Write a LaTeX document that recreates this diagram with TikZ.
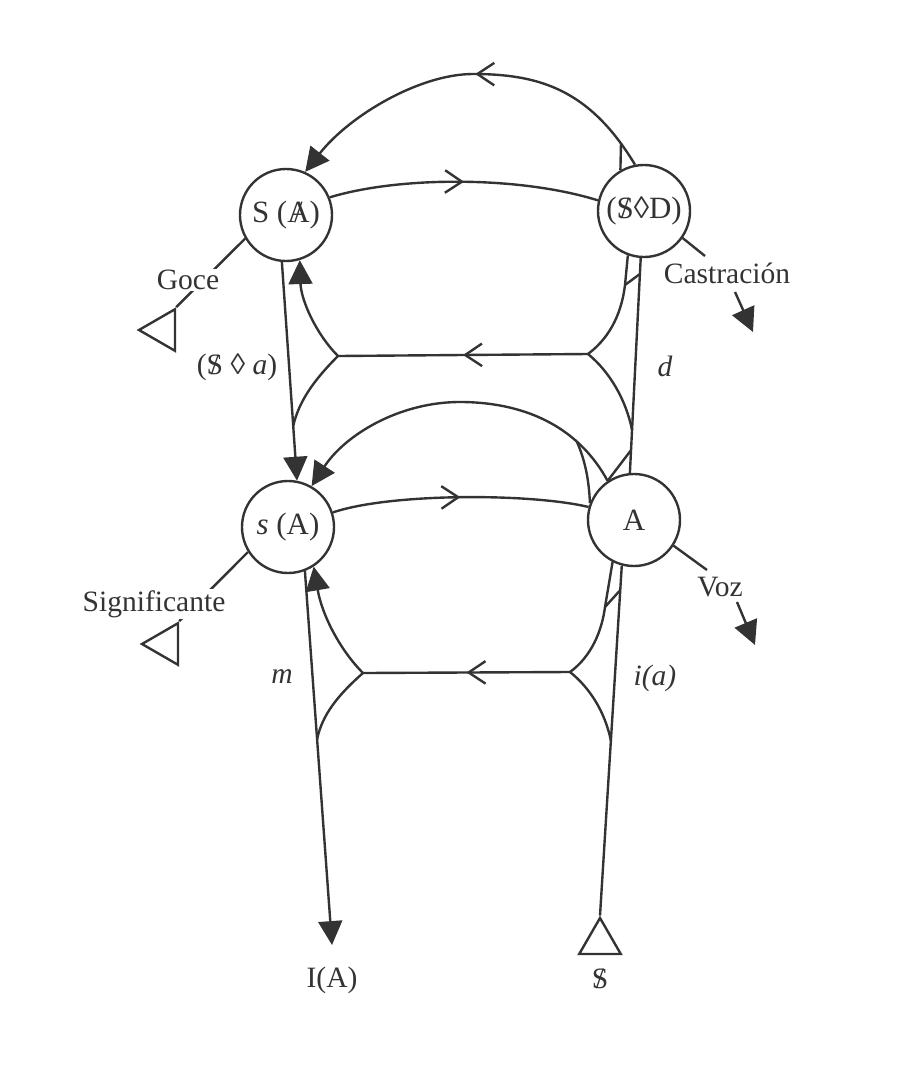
\documentclass[tikz,border=0pt]{standalone}
\usepackage{fontspec}
\setmainfont{Liberation Serif}
\usetikzlibrary{arrows.meta,calc,positioning,shapes.geometric,decorations.markings}
\definecolor{tinta}{gray}{0.2}
\newcommand{\tachado}[1]{\ooalign{#1\cr\hidewidth/\hidewidth\cr}}

\begin{document}
\begin{tikzpicture}[x=0.025cm, y=-0.025cm,
  line width=1.7pt, color=tinta,
  lugar/.style={circle, draw, fill=white,
      minimum size=2.3cm, inner sep=0pt,
      font=\fontsize{22}{26}\selectfont},
  etiqueta/.style={inner sep=1pt, font=\fontsize{21}{24}\selectfont},
  triangulo/.style={regular polygon, regular polygon sides=3, draw,
      minimum size=1.2cm, inner sep=0pt},
  punta/.style={-{Triangle[length=17pt,width=17pt]}},
  chevron/.style={postaction={decorate, decoration={markings,
      mark=at position #1 with {\arrow{Straight Barb[length=12pt,width=16pt]}}}}}]
\useasboundingbox (0,0) rectangle (902,1074);

\node[lugar] (SA) at (286,215) {S (\tachado{A})};
\node[lugar] (SD) at (644,211) {(\tachado{S}◊D)};
\node[lugar] (sA) at (288,527) {\textit{s} (A)};
\node[lugar] (A) at (634,520) {A};

\node[triangulo, shape border rotate=90] (tGoce) at (163,330) {};
\node[triangulo, shape border rotate=90] (tSig) at (166,644) {};
\node[triangulo] (tS) at (600,942) {};

\coordinate (IAtip) at (332,945);
\coordinate (JL1) at (338,356);
\coordinate (JR1) at (588,354);
\coordinate (JL2) at (363,673);
\coordinate (JR2) at (570,672);
\coordinate (kR1) at (625,285);
\coordinate (kR2) at (605,607);
\coordinate (kMid) at (577,442);
\coordinate (kTop) at (621,143);
\coordinate (L1) at ($(SA.265)!0.75!(sA.79)$);
\coordinate (L2) at ($(sA.291)!0.45!(IAtip)$);
\coordinate (P1) at ($(A.95)!0.926!(SD.266)$);
\coordinate (P2) at ($(A.95)!0.2!(SD.266)$);
\coordinate (P3) at ($(A.95)!0.106!(SD.266)$);
\coordinate (P4) at ($(A.255)!0.07!(tS.corner 1)$);
\coordinate (P5) at ($(A.255)!0.5!(tS.corner 1)$);

\draw[punta] (SA.265) -- (sA.79);
\draw[punta] (sA.291) -- (IAtip);
\draw (tS.corner 1) -- (A.255);
\draw (A.95) -- (SD.266);

\draw[punta, chevron=0.49] (SD.101) .. controls (590,90) and (540,74) .. (473,74)
  .. controls (420,74) and (350,115) .. (SA.66);
\draw (SD.120) -- (kTop);
\draw[chevron=0.5] (SA.22) .. controls (400,176) and (520,176) .. (SD.167);

\draw[chevron=0.5] (JR1) -- (JL1);
\draw[punta] (JL1) .. controls (316,334) and (301,300) .. (SA.287);
\draw (JL1) .. controls (316,378) and (299,400) .. (L1);
\draw (JR1) .. controls (612,336) and (622,310) .. (kR1) -- (SD.250);
\draw (kR1) -- (P1);
\draw (JR1) .. controls (610,372) and (626,400) .. (P2);

\draw[punta] (A.124) .. controls (580,430) and (530,403) .. (463,402)
  .. controls (400,401) and (345,435) .. (sA.60);
\draw (kMid) .. controls (585,460) and (589,480) .. (A.159);
\draw (P3) -- (A.124);
\draw[chevron=0.5] (sA.18) .. controls (390,493) and (530,493) .. (A.164);

\draw[chevron=0.5] (JR2) -- (JL2);
\draw[punta] (JL2) .. controls (340,650) and (322,615) .. (sA.303);
\draw (JL2) .. controls (338,695) and (322,715) .. (L2);
\draw (JR2) .. controls (592,656) and (602,630) .. (kR2) -- (A.243);
\draw (kR2) -- (P4);
\draw (JR2) .. controls (590,688) and (605,712) .. (P5);

\draw (SA.210) -- (tGoce.corner 3);
\node[etiqueta, fill=white] (goce) at (188,280) {Goce};
\draw (sA.212) -- (tSig.corner 3);
\node[etiqueta, fill=white] (sig) at (154,604) {Significante};

\coordinate (castrA) at (705,256);
\coordinate (castrB) at (735,292);
\coordinate (castrC) at (753,332);
\draw (SD.325) -- (castrA);
\node[etiqueta] (castr) at (727,273) {Castración};
\draw[punta] (castrB) -- (castrC);

\coordinate (vozA) at (707,570);
\coordinate (vozB) at (737,602);
\coordinate (vozC) at (755,645);
\draw (A.327) -- (vozA);
\node[etiqueta] (voz) at (720,587) {Voz};
\draw[punta] (vozB) -- (vozC);

\node[etiqueta] (sda) at (237,367) {(\tachado{S} ◊ \textit{a})};
\node[etiqueta] (d) at (665,366) {\textit{d}};
\node[etiqueta] (m) at (282,677) {\textit{m}};
\node[etiqueta] (ia) at (655,678) {\textit{i(a)}};
\node[etiqueta, below=14pt of IAtip] (IA) {I(A)};
\node[etiqueta, below=8pt of tS] (barS) {\tachado{S}};
\end{tikzpicture}
\end{document}
